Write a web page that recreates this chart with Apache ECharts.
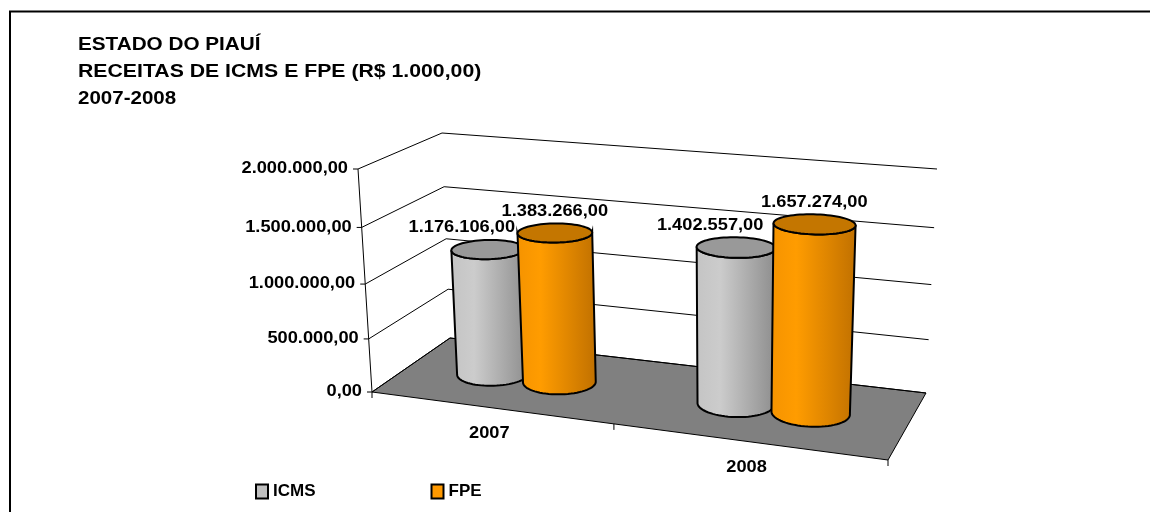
<!DOCTYPE html>
<html>
<head>
<meta charset="utf-8">
<script src="https://cdn.jsdelivr.net/npm/echarts@6/dist/echarts.min.js"></script>
<style>
html, body { margin: 0; padding: 0; background: #fff; }
#main { width: 1150px; height: 512px; }
</style>
</head>
<body>
<div id="main"></div>
<script>
const years = ['2007', '2008']
const icms = [1176106, 1402557]
const fpe = [1383266, 1657274]
const yTicks = [0, 500000, 1000000, 1500000, 2000000]

const FONT = '"Liberation Sans", Arial, sans-serif'
const STRETCH = 1.14

// caixa 3D na tela: piso e plano do topo (frente-esq, frente-dir, fundo-dir, fundo-esq)
const floorQuad = [[372, 392], [888, 460], [926, 393], [450, 338]]
const topQuad = [[358, 169], [898, 215], [937, 169], [442, 133]]

function quadMap(q) {
  const [x0, y0] = q[0], [x1, y1] = q[1], [x2, y2] = q[2], [x3, y3] = q[3]
  const dx1 = x1 - x2, dx2 = x3 - x2, dx3 = x0 - x1 + x2 - x3
  const dy1 = y1 - y2, dy2 = y3 - y2, dy3 = y0 - y1 + y2 - y3
  const den = dx1 * dy2 - dx2 * dy1
  const g = (dx3 * dy2 - dx2 * dy3) / den
  const h = (dx1 * dy3 - dx3 * dy1) / den
  const a = x1 - x0 + g * x1, b = x3 - x0 + h * x3, c = x0
  const d = y1 - y0 + g * y1, e = y3 - y0 + h * y3, f = y0
  return function(u, v) {
    const w = g * u + h * v + 1
    return [(a * u + b * v + c) / w, (d * u + e * v + f) / w]
  }
}
const floorMap = quadMap(floorQuad)
const topMap = quadMap(topQuad)

// u: posicao na categoria, d: profundidade, t: valor normalizado
function project(u, d, t) {
  const p = floorMap(u, d)
  const q = topMap(u, d)
  const k = t * (0.936 + 0.064 * t)
  return [p[0] + (q[0] - p[0]) * k, p[1] + (q[1] - p[1]) * k]
}

function fmt(n) {
  const parts = n.toFixed(2).split('.')
  return parts[0].replace(/\B(?=(\d{3})+(?!\d))/g, '.') + ',' + parts[1]
}

function norm(params, api, x, y) {
  const cs = params.coordSys
  const c = api.coord([x, y])
  return { u: (c[0] - cs.x) / cs.width, t: (cs.y + cs.height - c[1]) / cs.height, band: api.size([1, 0])[0] / cs.width }
}

function boldText(x, y, text, align, size) {
  return {
    type: 'text', x: x, y: y, scaleX: STRETCH,
    style: { text: text, font: 'bold ' + (size || 16) + 'px ' + FONT, fill: '#000', align: align, verticalAlign: 'middle' }
  }
}

function renderFloor(params, api) {
  const pts = [project(0, 0, 0), project(1, 0, 0), project(1, 1, 0), project(0, 1, 0)]
  const children = [
    { type: 'polygon', shape: { points: pts }, style: { fill: '#808080', stroke: '#000', lineWidth: 1 } },
    { type: 'line', shape: { x1: pts[0][0], y1: pts[0][1], x2: project(0, 0, 1)[0], y2: project(0, 0, 1)[1] }, style: { stroke: '#000', lineWidth: 1 } }
  ]
  // marcas do eixo de categorias
  ;[0, 0.5, 1].forEach(function(u) {
    const p = project(u, 0, 0)
    children.push({ type: 'line', shape: { x1: p[0], y1: p[1], x2: p[0], y2: p[1] + 6 }, style: { stroke: '#000', lineWidth: 1 } })
  })
  return { type: 'group', children: children }
}

function renderGrid(params, api) {
  const n = norm(params, api, 0, api.value(1))
  const a = project(0, 0, n.t), b = project(0, 1, n.t), c = project(1, 1, n.t)
  return {
    type: 'group',
    children: [
      { type: 'polyline', shape: { points: [a, b, c] }, style: { stroke: '#000', lineWidth: 1, fill: null } },
      { type: 'line', shape: { x1: a[0], y1: a[1], x2: a[0] - 5, y2: a[1] }, style: { stroke: '#000', lineWidth: 1 } },
      boldText(a[0] - 10, a[1], fmt(api.value(1)), 'right')
    ]
  }
}

function renderCat(params, api) {
  const n = norm(params, api, api.value(0), 0)
  const p = project(n.u, 0, 0)
  return boldText(p[0], p[1] + 26, years[api.value(0)], 'center')
}

function cylinderRenderer(side, stops, topColor, labelDx) {
  return function(params, api) {
    const n = norm(params, api, api.value(0), api.value(1))
    const uc = n.u + side * n.band / 7
    const ru = n.band / 7, rd = 0.2, dc = 0.5
    const N = 72
    const bottom = [], top = []
    for (let i = 0; i < N; i++) {
      const th = 2 * Math.PI * i / N
      const uu = uc + ru * Math.cos(th), dd = dc + rd * Math.sin(th)
      bottom.push(project(uu, dd, 0))
      top.push(project(uu, dd, n.t))
    }
    let iMin = 0, iMax = 0
    bottom.forEach(function(p, i) {
      if (p[0] < bottom[iMin][0]) iMin = i
      if (p[0] > bottom[iMax][0]) iMax = i
    })
    const botArc = [], topArc = []
    for (let i = iMin; ; i = (i + 1) % N) {
      botArc.push(bottom[i])
      topArc.push(top[i])
      if (i === iMax) break
    }
    const body = botArc.concat(topArc.reverse())
    let yTop = Infinity
    top.forEach(function(p) { yTop = Math.min(yTop, p[1]) })
    const ctr = project(uc, dc, n.t)
    return {
      type: 'group',
      children: [
        { type: 'polygon', shape: { points: body }, style: { fill: new echarts.graphic.LinearGradient(0, 0, 1, 0, stops), stroke: '#000', lineWidth: 2 } },
        { type: 'polygon', shape: { points: top }, style: { fill: topColor, stroke: '#000', lineWidth: 2 } },
        boldText(ctr[0] + labelDx, yTop - 12, fmt(api.value(1)), 'center')
      ]
    }
  }
}

const chart = echarts.init(document.getElementById('main'), null, { renderer: 'canvas' })

chart.setOption({
  animation: false,
  backgroundColor: '#fff',
  grid: { left: 100, top: 100, width: 400, height: 300, show: false },
  xAxis: { type: 'category', data: years, show: false },
  yAxis: { type: 'value', min: 0, max: 2000000, interval: 500000, show: false },
  legend: {
    data: ['ICMS', 'FPE'],
    left: 250,
    top: 478,
    icon: 'rect',
    itemWidth: 12,
    itemHeight: 14,
    itemGap: 115,
    itemStyle: { borderColor: '#000', borderWidth: 2 },
    textStyle: { fontFamily: FONT, fontSize: 17, fontWeight: 'bold', color: '#000' }
  },
  graphic: [
    { type: 'rect', shape: { x: 10, y: 11.5, width: 1200, height: 600 }, style: { fill: null, stroke: '#000', lineWidth: 2 } },
    { type: 'text', x: 78, y: 45, scaleX: 1.15, style: { text: 'ESTADO DO PIAUÍ', font: 'bold 18px ' + FONT, fill: '#000', verticalAlign: 'middle' } },
    { type: 'text', x: 78, y: 72.5, scaleX: 1.18, style: { text: 'RECEITAS DE ICMS E FPE (R$ 1.000,00)', font: 'bold 18px ' + FONT, fill: '#000', verticalAlign: 'middle' } },
    { type: 'text', x: 78, y: 99.5, scaleX: 1.14, style: { text: '2007-2008', font: 'bold 18px ' + FONT, fill: '#000', verticalAlign: 'middle' } }
  ],
  series: [
    { name: 'floor', type: 'custom', z: 1, data: [[0, 0]], renderItem: renderFloor, silent: true },
    { name: 'grid', type: 'custom', z: 2, data: yTicks.map(function(v) { return [0, v] }), renderItem: renderGrid, silent: true },
    { name: 'cats', type: 'custom', z: 2, data: years.map(function(y, i) { return [i, 0] }), renderItem: renderCat, silent: true },
    {
      name: 'ICMS', type: 'custom', z: 3,
      itemStyle: { color: '#c0c0c0' },
      data: icms.map(function(v, i) { return [i, v] }),
      renderItem: cylinderRenderer(-1, [
        { offset: 0, color: '#c4c4c4' }, { offset: 0.3, color: '#cccccc' }, { offset: 1, color: '#8c8c8c' }
      ], '#999999', -26)
    },
    {
      name: 'FPE', type: 'custom', z: 3,
      itemStyle: { color: '#ff9900' },
      data: fpe.map(function(v, i) { return [i, v] }),
      renderItem: cylinderRenderer(1, [
        { offset: 0, color: '#f59300' }, { offset: 0.3, color: '#ff9c00' }, { offset: 1, color: '#c07000' }
      ], '#c47600', 0)
    }
  ]
})
</script>
</body>
</html>
